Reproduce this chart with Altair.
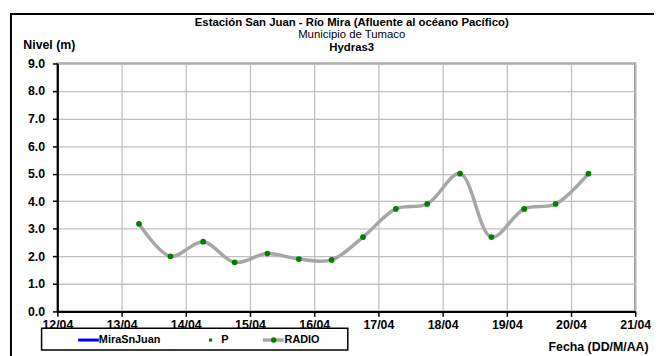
import altair as alt
import pandas as pd

# ---- data ----
fechas = [
    "2013-04-13T06:30", "2013-04-13T18:15",
    "2013-04-14T06:30", "2013-04-14T18:15",
    "2013-04-15T06:30", "2013-04-15T18:15",
    "2013-04-16T06:30", "2013-04-16T18:15",
    "2013-04-17T06:30", "2013-04-17T18:15",
    "2013-04-18T06:30", "2013-04-18T18:15",
    "2013-04-19T06:30", "2013-04-19T18:15",
    "2013-04-20T06:30",
]
nivel = [3.18, 2.0, 2.53, 1.78, 2.1, 1.9, 1.87, 2.7, 3.72, 3.9, 5.0, 2.7, 3.72, 3.9, 5.0]
y_ticks = [0, 1, 2, 3, 4, 5, 6, 7, 8, 9]
x_days = [12, 13, 14, 15, 16, 17, 18, 19, 20, 21]
legend_series = ["MiraSnJuan", "P", "RADIO"]

titulos = ["Estación San Juan  - Río Mira (Afluente al océano Pacífico)",
           "Municipio de Tumaco", "Hydras3"]
titulo_peso = ["bold", "normal", "bold"]

df = pd.DataFrame({"fecha": fechas, "nivel": nivel, "serie": "RADIO"})
one = pd.DataFrame({"k": [0]})

FONT = "Liberation Sans"
W, H = 585, 251

x_enc = alt.X(
    "fecha:T",
    scale=alt.Scale(domain=[alt.DateTime(year=2013, month=4, date=12),
                            alt.DateTime(year=2013, month=4, date=21)]),
    axis=alt.Axis(
        values=[alt.DateTime(year=2013, month=4, date=d) for d in x_days],
        format="%d/%m", title="Fecha (DD/M/AA)",
        titleX=598, titleY=36, titleAlign="right", titleBaseline="middle",
        labelPadding=2, tickSize=5, labelFlush=False, labelOverlap=False,
    ),
)
y_enc = alt.Y(
    "nivel:Q",
    scale=alt.Scale(domain=[0, 9], nice=False, zero=True),
    axis=alt.Axis(
        values=y_ticks, format=".1f", title="Nivel (m)",
        titleAngle=0, titleX=-35, titleY=-19, titleAlign="left", titleBaseline="middle",
        labelPadding=8, tickSize=5, labelFlush=False, labelOverlap=False,
    ),
)

line = alt.Chart(df).mark_line(
    interpolate="catmull-rom", color="#a6a6a6", strokeWidth=3.5
).encode(x=x_enc, y=y_enc)

points = alt.Chart(df).mark_point(
    filled=True, color="#008000", size=34, opacity=1
).encode(x=x_enc, y=y_enc)

frame = alt.Chart(one).mark_rect(fill=None, stroke="black", strokeWidth=2).encode(
    x=alt.value(-47), x2=alt.value(720), y=alt.value(-50), y2=alt.value(420)
)

# three title lines
tit_df = pd.DataFrame({"t": titulos, "w": titulo_peso, "py": [-41, -28.5, -16]})
tit_bold = alt.Chart(tit_df).transform_filter(alt.datum.w == "bold").mark_text(
    font=FONT, fontWeight="bold", fontSize=11.5, color="black", baseline="middle"
).encode(x=alt.value(298), y=alt.Y("py:Q", scale=None), text="t:N")
tit_norm = alt.Chart(tit_df).transform_filter(alt.datum.w == "normal").mark_text(
    font=FONT, fontWeight="normal", fontSize=11.5, color="black", baseline="middle"
).encode(x=alt.value(298), y=alt.Y("py:Q", scale=None), text="t:N")

# legend (drawn below the plot)
leg_box = alt.Chart(one).mark_rect(fill="white", stroke="black", strokeWidth=1.5).encode(
    x=alt.value(-16), x2=alt.value(294), y=alt.value(268), y2=alt.value(290)
)
leg_blue = alt.Chart(one).mark_rule(color="#0000ff", strokeWidth=3).encode(
    x=alt.value(21), x2=alt.value(42), y=alt.value(280)
)
leg_p = alt.Chart(one).mark_square(color="#008000", size=10, opacity=1).encode(
    x=alt.value(155), y=alt.value(280)
)
leg_grey = alt.Chart(one).mark_rule(color="#a6a6a6", strokeWidth=3.5).encode(
    x=alt.value(208), x2=alt.value(229), y=alt.value(280)
)
leg_dot = alt.Chart(one).mark_point(filled=True, color="#008000", size=30, opacity=1).encode(
    x=alt.value(219), y=alt.value(280)
)
leg_df = pd.DataFrame({"serie": legend_series, "px": [42, 166, 230]})
leg_text = alt.Chart(leg_df).mark_text(
    font=FONT, fontWeight="bold", fontSize=11, align="left", baseline="middle", color="black"
).encode(x=alt.X("px:Q", scale=None), y=alt.value(280), text="serie:N")

chart = alt.layer(
    frame, line, points, tit_bold, tit_norm,
    leg_box, leg_blue, leg_p, leg_grey, leg_dot, leg_text
).properties(
    width=W, height=H,
    autosize=alt.AutoSizeParams(type="none"),
    padding={"left": 50, "top": 54, "right": 19, "bottom": 44},
).configure_view(
    stroke="#808080", strokeWidth=2
).configure_axis(
    labelFont=FONT, labelFontSize=12.5, labelFontWeight="bold", labelColor="black",
    titleFont=FONT, titleFontSize=12.5, titleFontWeight="bold", titleColor="black",
    domainColor="black", domainWidth=2, tickColor="black", tickWidth=1.5,
    gridColor="#c0c0c0", gridWidth=1.3, labelOverlap=False, labelFlush=False,
)

chart.save("out.html", embed_options={"renderer": "svg", "actions": False})
